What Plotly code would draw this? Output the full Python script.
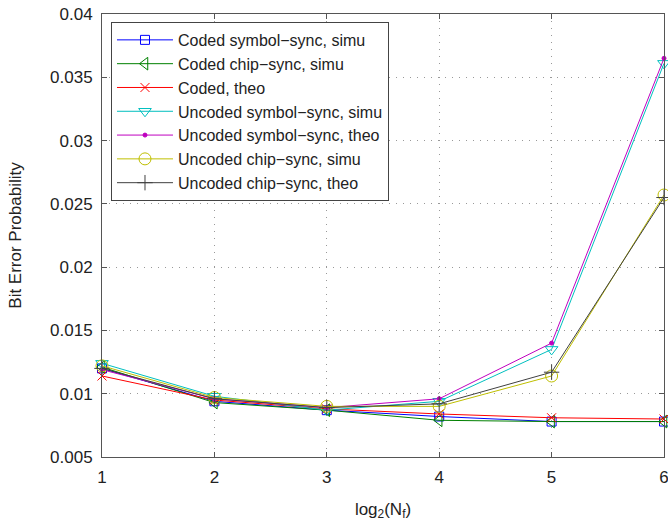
import plotly.graph_objects as go

x_vals = [1, 2, 3, 4, 5, 6]

coded_symbol_simu = [0.0120, 0.0094, 0.0087, 0.0082, 0.0078, 0.0078]
coded_chip_simu = [0.0121, 0.0093, 0.0087, 0.0079, 0.0078, 0.0078]
coded_theo = [0.0114, 0.0095, 0.0088, 0.0084, 0.0081, 0.0080]
uncoded_symbol_simu = [0.0124, 0.0098, 0.0087, 0.0094, 0.0135, 0.0361]
uncoded_symbol_theo = [0.0119, 0.0096, 0.0089, 0.0096, 0.0140, 0.0365]
uncoded_chip_simu = [0.0122, 0.0097, 0.0090, 0.0090, 0.0114, 0.0257]
uncoded_chip_theo = [0.0120, 0.0096, 0.0089, 0.0092, 0.0117, 0.0255]

series = [
    ("Coded symbol\u2212sync, simu", coded_symbol_simu, "#0000FF", "square-open", 9),
    ("Coded chip\u2212sync, simu", coded_chip_simu, "#008000", "triangle-left-open", 11),
    ("Coded, theo", coded_theo, "#FF0000", "x-thin-open", 9),
    ("Uncoded symbol\u2212sync, simu", uncoded_symbol_simu, "#00BFBF", "triangle-down-open", 11),
    ("Uncoded symbol\u2212sync, theo", uncoded_symbol_theo, "#BF00BF", "circle", 4),
    ("Uncoded chip\u2212sync, simu", uncoded_chip_simu, "#BFBF00", "circle-open", 12),
    ("Uncoded chip\u2212sync, theo", uncoded_chip_theo, "#404040", "cross-thin-open", 11),
]

fig = go.Figure()
for name, vals, color, sym, size in series:
    fig.add_trace(go.Scatter(
        x=x_vals, y=vals, name=name, mode="lines+markers",
        line=dict(color=color, width=1),
        marker=dict(symbol=sym, size=size, color=color,
                    line=dict(color=color, width=1)),
        cliponaxis=False,
    ))

FS = 17
axis_common = dict(
    showline=True, linecolor="#555555", linewidth=1, mirror="allticks",
    ticks="inside", ticklen=5, tickcolor="#555555",
    showgrid=True, gridcolor="#999999", griddash="1px,6px", gridwidth=1,
    zeroline=False, automargin=False, ticklabeloverflow="allow",
    ticklabelstandoff=5,
    tickfont=dict(size=FS, color="#222222"),
)

fig.update_layout(
    width=668, height=523,
    margin=dict(l=102, r=4, t=14, b=66),
    paper_bgcolor="white", plot_bgcolor="white",
    font=dict(family="Liberation Sans, Arial, sans-serif", size=FS, color="#222222"),
    xaxis=dict(range=[1, 6], tickvals=[1, 2, 3, 4, 5, 6],
               title=dict(text="log<sub>2</sub>(N<sub>f</sub>)", standoff=16,
                          font=dict(size=FS)),
               **axis_common),
    yaxis=dict(range=[0.005, 0.04], tickvals=[0.005, 0.01, 0.015, 0.02, 0.025, 0.03, 0.035, 0.04],
               ticktext=["0.005", "0.01", "0.015", "0.02", "0.025", "0.03", "0.035", "0.04"],
               title=dict(text="Bit Error Probability", standoff=24, font=dict(size=FS)),
               **axis_common),
    legend=dict(x=0.016, y=0.982, xanchor="left", yanchor="top",
                bgcolor="white", bordercolor="#444444", borderwidth=1,
                font=dict(size=16), itemwidth=56, tracegroupgap=0),
    showlegend=True,
)

fig.write_html("out.html",
               config={"displayModeBar": False},
               post_script="document.body.style.margin='0';document.body.style.padding='0';")
